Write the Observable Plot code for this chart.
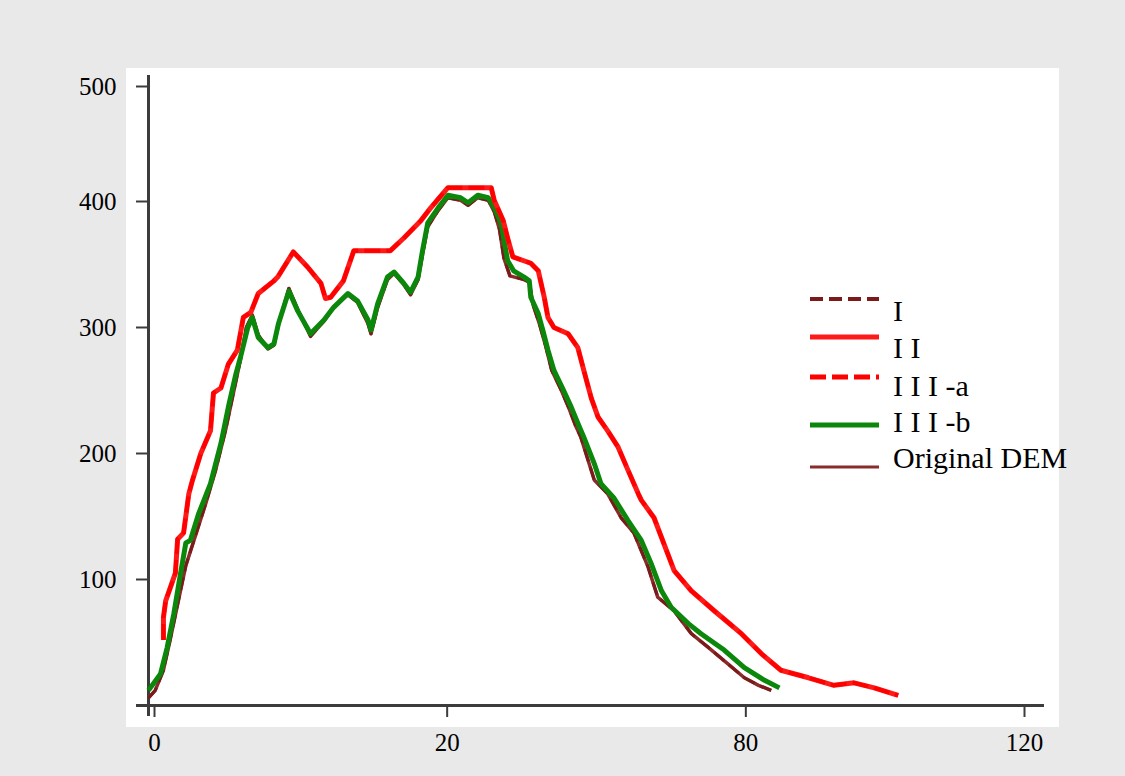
<!DOCTYPE html>
<html>
<head>
<meta charset="utf-8">
<script src="https://cdn.jsdelivr.net/npm/d3@7"></script>
<script src="https://cdn.jsdelivr.net/npm/@observablehq/plot@0.6"></script>
<style>
  html, body { margin: 0; padding: 0; background: #e9e9e9; }
  #wrap { position: relative; width: 1125px; height: 776px; overflow: hidden; background: #e9e9e9; }
  #panel { position: absolute; left: 126px; top: 68px; width: 933px; height: 659px; background: #ffffff; }
  #chart { position: absolute; left: 0; top: 0; }
  #chart svg text { font-size: 25px !important; font-family: 'Liberation Serif', 'Times New Roman', serif !important; }
  #legend { position: absolute; left: 0; top: 0; }
</style>
</head>
<body>
<div id="wrap">
  <div id="panel"></div>
  <div id="chart"></div>
  <svg id="legend" width="1125" height="776"></svg>
</div>
<script>
// ---------------- data ----------------
const seriesNames = ["I", "I I", "I I I -a", "I I I -b", "Original DEM"];

// II (upper red curve)
const xII = [2.0, 2.0, 2.3, 3.6, 3.9, 4.7, 5.4, 5.9, 7.0, 8.3, 8.7, 9.7, 10.7, 11.9, 12.7, 13.7, 14.7, 16.8, 17.3, 19.4, 21.3, 23.1, 23.7, 24.4, 26.1, 27.5, 29.8, 32.4, 34.2, 36.5, 37.8, 40.1, 43.2, 45.9, 46.3, 47.5, 48.1, 48.8, 51.2, 52.2, 53.0, 53.5, 54.3, 56.2, 57.5, 58.3, 59.3, 60.2, 61.5, 62.9, 64.2, 65.6, 66.0, 67.7, 70.4, 72.7, 75.8, 79.4, 82.1, 84.7, 88.4, 91.8, 94.5, 97.2, 100.4];
const yII = [52, 70, 83, 105, 132, 137, 168, 179, 200, 218, 248, 252, 271, 282, 308, 312, 327, 337, 340, 360, 348, 335, 323, 324, 337, 361, 361, 361, 371, 385, 395, 411, 411, 411, 401, 385, 371, 356, 351, 345, 324, 308, 300, 295, 284, 266, 244, 229, 218, 205, 187, 168, 163, 149, 107, 91, 75, 57, 41, 28, 22, 16, 18, 14, 8];

// III-a (red dashed, lies on top of II)
const xIIIa = xII;
const yIIIa = yII;

// III-b (green)
const xIIIb = [0, 1.6, 2.5, 3.4, 4.3, 5.0, 5.6, 6.7, 8.3, 9.7, 10.7, 11.7, 12.3, 13.3, 13.9, 14.7, 16.0, 16.8, 17.4, 18.8, 20.0, 21.7, 23.5, 24.8, 26.7, 28.0, 29.4, 29.8, 30.7, 32.0, 32.9, 34.2, 35.1, 36.1, 36.7, 37.4, 38.8, 40.1, 41.8, 42.8, 44.1, 45.5, 46.3, 47.2, 48.1, 48.9, 50.3, 51.0, 51.2, 52.2, 52.8, 53.5, 54.3, 55.6, 56.6, 57.5, 58.3, 59.7, 60.6, 62.3, 64.2, 66.0, 67.3, 68.7, 70.0, 72.3, 74.0, 77.1, 79.8, 82.5, 84.5];
const yIIIb = [12, 25, 46, 73, 105, 129, 131, 152, 176, 208, 237, 263, 276, 300, 308, 292, 284, 287, 303, 329, 313, 295, 306, 316, 327, 321, 306, 298, 319, 340, 344, 335, 328, 340, 361, 383, 395, 405, 403, 399, 405, 403, 395, 383, 353, 345, 340, 337, 324, 311, 298, 282, 266, 250, 237, 224, 213, 192, 176, 165, 147, 131, 113, 91, 78, 65, 57, 44, 30, 20, 14];

// Original DEM (dark brown)
const xDEM = [0, 0.9, 2.0, 2.9, 4.0, 5.0, 6.3, 7.6, 9.0, 10.3, 11.3, 12.3, 13.1, 13.9, 14.7, 16.0, 16.8, 17.4, 18.8, 20.0, 21.7, 23.5, 24.8, 26.7, 28.0, 29.4, 29.8, 30.7, 32.0, 32.9, 34.2, 35.1, 36.1, 36.7, 37.4, 38.8, 40.1, 41.8, 42.8, 44.1, 45.5, 46.3, 47.0, 47.6, 48.4, 50.3, 51.0, 51.5, 52.4, 53.2, 54.0, 55.3, 56.3, 57.2, 57.9, 59.7, 61.5, 63.3, 65.0, 66.9, 68.2, 70.4, 72.7, 75.0, 77.6, 79.8, 81.7, 83.4];
const yDEM = [6, 12, 28, 52, 83, 111, 135, 159, 187, 218, 246, 274, 300, 310, 294, 283, 286, 302, 331, 314, 293, 305, 316, 326, 320, 303, 295, 316, 338, 343, 334, 326, 338, 358, 380, 393, 403, 401, 397, 403, 401, 392, 378, 355, 341, 338, 336, 318, 302, 285, 266, 250, 236, 222, 213, 179, 168, 149, 137, 110, 86, 75, 57, 46, 33, 22, 16, 12];

// I (dark red dashed, lies on top of Original DEM)
const xI = xDEM;
const yI = yDEM;

// axis ticks
const yTickValues = [100, 200, 300, 400, 500];
const xTickValues = [0, 40, 80, 120];
const xTickLabels = ["0", "20", "80", "120"];

// ---------------- styles ----------------
const colors = {"I": "#7a1a1a", "I I": "#ff1a1a", "I I I -a": "#ff0000", "I I I -b": "#0b870b", "Original DEM": "#8a2c2c"};
const widths = {"I": 3, "I I": 5, "I I I -a": 4, "I I I -b": 5, "Original DEM": 3.5};
const dashes = {"I": "13,6", "I I": null, "I I I -a": "16,6", "I I I -b": null, "Original DEM": null};

function rowsOf(name, xs, ys) { return xs.map((x, i) => ({series: name, x, y: ys[i]})); }
const data = {
  "Original DEM": rowsOf("Original DEM", xDEM, yDEM),
  "I": rowsOf("I", xI, yI),
  "I I I -b": rowsOf("I I I -b", xIIIb, yIIIb),
  "I I": rowsOf("I I", xII, yII),
  "I I I -a": rowsOf("I I I -a", xIIIa, yIIIa)
};
const drawOrder = ["Original DEM", "I", "I I I -b", "I I", "I I I -a"];

const lineMarks = drawOrder.map(name => Plot.line(data[name], {
  x: "x", y: "y",
  stroke: colors[name],
  strokeWidth: widths[name],
  strokeDasharray: dashes[name] || undefined,
  strokeLinejoin: "round",
  strokeLinecap: "butt"
}));

const axisColor = "#3c3c3c";
const xLabel = d => xTickLabels[xTickValues.indexOf(d)];

const chart = Plot.plot({
  width: 1125,
  height: 776,
  marginLeft: 148,
  marginRight: 81,
  marginTop: 75,
  marginBottom: 71,
  style: {background: "transparent", fontFamily: "'Liberation Serif', 'Times New Roman', serif", fontSize: "25px", color: "#000", overflow: "visible"},
  x: {domain: [0, 120]},
  y: {domain: [0, 500]},
  marks: [
    // axis lines
    Plot.ruleX([0], {stroke: axisColor, strokeWidth: 3, insetBottom: -11}),
    Plot.ruleY([0], {stroke: axisColor, strokeWidth: 3, insetLeft: -12}),
    // y axis
    Plot.axisY(yTickValues.filter(v => v !== 500), {tickSize: 12, tickPadding: 20, stroke: axisColor, strokeWidth: 2, fill: "#000", fontSize: 25, label: null}),
    Plot.axisY([500], {tickSize: 12, tickPadding: 20, stroke: axisColor, strokeWidth: 2, fill: "#000", fontSize: 25, dy: 11, label: null}),
    // x axis
    Plot.axisX([0], {tickSize: 12, tickPadding: 16, stroke: axisColor, strokeWidth: 2, fill: "#000", fontSize: 25, tickFormat: xLabel, dx: 6, label: null}),
    Plot.axisX([40, 80], {tickSize: 12, tickPadding: 16, stroke: axisColor, strokeWidth: 2, fill: "#000", fontSize: 25, tickFormat: xLabel, label: null}),
    Plot.axisX([120], {tickSize: 12, tickPadding: 16, stroke: axisColor, strokeWidth: 2, fill: "#000", fontSize: 25, tickFormat: xLabel, dx: -20, label: null}),
    ...lineMarks
  ]
});
document.getElementById("chart").appendChild(chart);

// ---------------- legend (overlay) ----------------
const legendLayout = [
  {lineY: 299, textY: 310},
  {lineY: 337, textY: 347},
  {lineY: 377, textY: 385},
  {lineY: 425, textY: 421},
  {lineY: 467, textY: 457}
];
const lg = d3.select("#legend");
seriesNames.forEach((name, i) => {
  const L = legendLayout[i];
  lg.append("line")
    .attr("x1", 810).attr("x2", 879)
    .attr("y1", L.lineY).attr("y2", L.lineY)
    .attr("stroke", colors[name])
    .attr("stroke-width", name === "Original DEM" ? 3 : (name === "I" ? 4 : 5))
    .attr("stroke-dasharray", dashes[name] || null);
  lg.append("text")
    .attr("x", 893).attr("y", L.textY)
    .attr("dominant-baseline", "central")
    .attr("font-family", "'Liberation Serif', 'Times New Roman', serif")
    .attr("font-size", 30)
    .attr("fill", "#000")
    .attr("xml:space", "preserve")
    .text(name);
});
</script>
</body>
</html>
